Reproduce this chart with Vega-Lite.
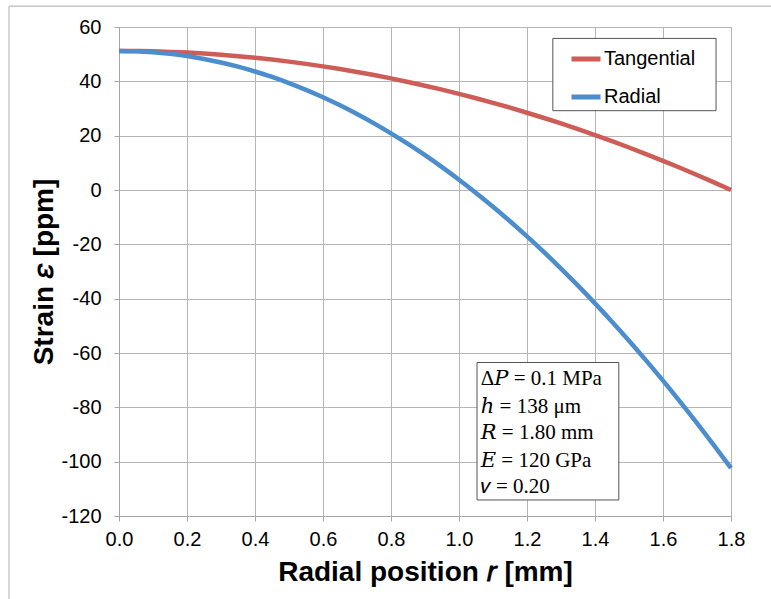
{
  "$schema": "https://vega.github.io/schema/vega-lite/v6.json",
  "width": 612,
  "height": 489,
  "autosize": {"type": "none"},
  "padding": {"left": 119, "top": 27, "right": 40, "bottom": 83},
  "background": "white",
  "config": {
    "view": {"stroke": "#B5B5B5", "strokeWidth": 1},
    "font": "Liberation Sans",
    "axis": {
      "grid": true,
      "labelFlush": false,
      "gridColor": "#B5B5B5",
      "gridWidth": 1,
      "domainColor": "#A6A6A6",
      "tickColor": "#A6A6A6",
      "tickSize": 5,
      "labelFont": "Liberation Sans",
      "labelFontSize": 20,
      "labelColor": "#000000",
      "titleFont": "Liberation Sans",
      "titleFontWeight": "bold",
      "titleColor": "#000000"
    }
  },
  "datasets": {
    "strain": [
      {"r": 0.00, "Tangential": 51.20, "Radial": 51.20},
      {"r": 0.05, "Tangential": 51.16, "Radial": 51.08},
      {"r": 0.10, "Tangential": 51.04, "Radial": 50.73},
      {"r": 0.15, "Tangential": 50.84, "Radial": 50.13},
      {"r": 0.20, "Tangential": 50.57, "Radial": 49.30},
      {"r": 0.25, "Tangential": 50.21, "Radial": 48.24},
      {"r": 0.30, "Tangential": 49.78, "Radial": 46.93},
      {"r": 0.35, "Tangential": 49.26, "Radial": 45.39},
      {"r": 0.40, "Tangential": 48.67, "Radial": 43.62},
      {"r": 0.45, "Tangential": 48.00, "Radial": 41.60},
      {"r": 0.50, "Tangential": 47.25, "Radial": 39.35},
      {"r": 0.55, "Tangential": 46.42, "Radial": 36.86},
      {"r": 0.60, "Tangential": 45.51, "Radial": 34.13},
      {"r": 0.65, "Tangential": 44.52, "Radial": 31.17},
      {"r": 0.70, "Tangential": 43.46, "Radial": 27.97},
      {"r": 0.75, "Tangential": 42.31, "Radial": 24.53},
      {"r": 0.80, "Tangential": 41.09, "Radial": 20.86},
      {"r": 0.85, "Tangential": 39.78, "Radial": 16.95},
      {"r": 0.90, "Tangential": 38.40, "Radial": 12.80},
      {"r": 0.95, "Tangential": 36.94, "Radial": 8.41},
      {"r": 1.00, "Tangential": 35.40, "Radial": 3.79},
      {"r": 1.05, "Tangential": 33.78, "Radial": -1.07},
      {"r": 1.10, "Tangential": 32.08, "Radial": -6.16},
      {"r": 1.15, "Tangential": 30.30, "Radial": -11.50},
      {"r": 1.20, "Tangential": 28.44, "Radial": -17.07},
      {"r": 1.25, "Tangential": 26.51, "Radial": -22.87},
      {"r": 1.30, "Tangential": 24.49, "Radial": -28.92},
      {"r": 1.35, "Tangential": 22.40, "Radial": -35.20},
      {"r": 1.40, "Tangential": 20.23, "Radial": -41.72},
      {"r": 1.45, "Tangential": 17.98, "Radial": -48.47},
      {"r": 1.50, "Tangential": 15.64, "Radial": -55.47},
      {"r": 1.55, "Tangential": 13.24, "Radial": -62.70},
      {"r": 1.60, "Tangential": 10.75, "Radial": -70.16},
      {"r": 1.65, "Tangential": 8.18, "Radial": -77.87},
      {"r": 1.70, "Tangential": 5.53, "Radial": -85.81},
      {"r": 1.75, "Tangential": 2.80, "Radial": -94.00},
      {"r": 1.80, "Tangential": 0.00, "Radial": -102.40}
    ],
    "notes": [
      {"label": "Δ𝑃 = 0.1 MPa", "v": -69.7},
      {"label": "ℎ = 138 μm", "v": -80.0},
      {"label": "𝑅 = 1.80 mm", "v": -89.6},
      {"label": "𝐸 = 120 GPa", "v": -99.8},
      {"label": "𝜈 = 0.20", "v": -109.2}
    ],
    "one": [{}]
  },
  "layer": [
    {
      "data": {"name": "one"},
      "mark": {"type": "rule", "color": "#C8C8C8", "strokeWidth": 1.5, "clip": false},
      "encoding": {
        "x": {"datum": -0.3235, "type": "quantitative"},
        "x2": {"datum": 1.92},
        "y": {"datum": 67.6, "type": "quantitative"}
      }
    },
    {
      "data": {"name": "one"},
      "mark": {"type": "rule", "color": "#C8C8C8", "strokeWidth": 1.5, "clip": false},
      "encoding": {
        "x": {"datum": -0.3235, "type": "quantitative"},
        "y": {"datum": 67.6, "type": "quantitative"},
        "y2": {"datum": -151}
      }
    },
    {
      "data": {"name": "strain"},
      "transform": [{"fold": ["Tangential", "Radial"], "as": ["series", "strain"]}],
      "mark": {"type": "line", "strokeWidth": 4.5, "interpolate": "monotone"},
      "encoding": {
        "x": {
          "field": "r",
          "type": "quantitative",
          "scale": {"domain": [0, 1.8], "nice": false, "zero": false},
          "axis": {
            "grid": true,
            "values": [0, 0.2, 0.4, 0.6, 0.8, 1.0, 1.2, 1.4, 1.6, 1.8],
            "format": ".1f",
            "labelPadding": 8,
            "title": "Radial position 𝑟 [mm]",
            "titleFontSize": 28,
            "titlePadding": 9
          }
        },
        "y": {
          "field": "strain",
          "type": "quantitative",
          "scale": {"domain": [-120, 60], "nice": false},
          "axis": {
            "grid": true,
            "values": [-120, -100, -80, -60, -40, -20, 0, 20, 40, 60],
            "labelExpr": "replace(datum.label, '−', '-')",
            "labelPadding": 13,
            "title": "Strain 𝜀 [ppm]",
            "titleFontSize": 28,
            "titlePadding": 2
          }
        },
        "color": {
          "field": "series",
          "type": "nominal",
          "sort": ["Tangential", "Radial"],
          "scale": {"domain": ["Tangential", "Radial"], "range": ["#CD5D56", "#4C8DCD"]},
          "legend": {
            "title": null,
            "orient": "none",
            "legendX": 450,
            "legendY": 23,
            "padding": 0,
            "symbolType": "stroke",
            "symbolSize": 841,
            "symbolStrokeWidth": 5,
            "clipHeight": 18,
            "rowPadding": 18,
            "labelFont": "Liberation Sans",
            "labelFontSize": 20,
            "labelColor": "#000000",
            "labelOffset": 1
          }
        }
      }
    },
    {
      "data": {"name": "one"},
      "mark": {"type": "rect", "fill": "white", "stroke": "#555555", "strokeWidth": 1},
      "encoding": {
        "x": {"datum": 1.276, "type": "quantitative"},
        "x2": {"datum": 1.756},
        "y": {"datum": 55.8, "type": "quantitative"},
        "y2": {"datum": 29.2}
      }
    },
    {
      "data": {"name": "one"},
      "mark": {"type": "rect", "fill": "white", "stroke": "#555555", "strokeWidth": 1},
      "encoding": {
        "x": {"datum": 1.053, "type": "quantitative"},
        "x2": {"datum": 1.47},
        "y": {"datum": -63.5, "type": "quantitative"},
        "y2": {"datum": -114.1}
      }
    },
    {
      "data": {"name": "notes"},
      "mark": {"type": "text", "align": "left", "baseline": "middle", "font": "'Liberation Serif', 'DejaVu Serif', serif", "fontSize": 21, "color": "#000000"},
      "encoding": {
        "x": {"datum": 1.064, "type": "quantitative"},
        "y": {"field": "v", "type": "quantitative"},
        "text": {"field": "label"}
      }
    }
  ]
}
